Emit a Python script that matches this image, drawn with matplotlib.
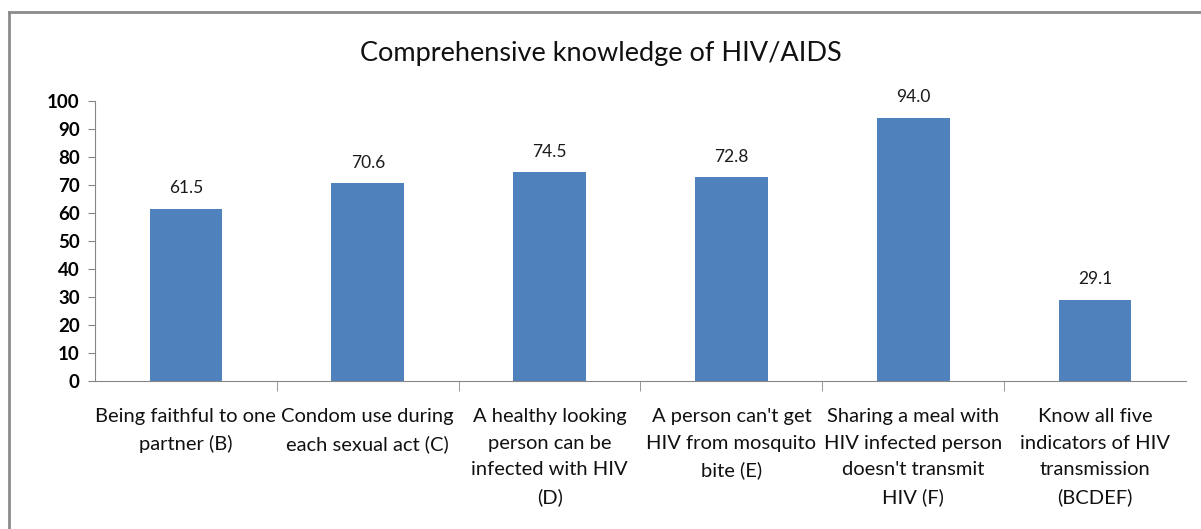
import matplotlib.pyplot as plt
import numpy as np

categories = [
    "Being faithful to one\npartner (B)",
    "Condom use during\neach sexual act (C)",
    "A healthy looking\nperson can be\ninfected with HIV\n(D)",
    "A person can't get\nHIV from mosquito\nbite (E)",
    "Sharing a meal with\nHIV infected person\ndoesn't transmit\nHIV (F)",
    "Know all five\nindicators of HIV\ntransmission\n(BCDEF)",
]
values = [61.5, 70.6, 74.5, 72.8, 94.0, 29.1]
yticks = list(range(0, 101, 10))

plt.rcParams['font.family'] = ['Lato', 'DejaVu Sans']

fig = plt.figure(figsize=(12.01, 5.29), dpi=100)
ax = fig.add_axes([95 / 1201, 1 - 381 / 529, (1186 - 95) / 1201, (381 - 101) / 529])

x = np.arange(len(values))
ax.bar(x, values, width=0.4, color='#4F81BD')
for xi, v in zip(x, values):
    ax.annotate(f"{v:.1f}", (xi, v), xytext=(0, 9), textcoords='offset points',
                ha='center', va='bottom', fontsize=12.5, color='#1a1a1a')

ax.set_xlim(-0.5, len(values) - 0.5)
ax.set_ylim(0, 100)
ax.set_yticks(yticks)
ax.set_yticklabels([str(t) for t in yticks], fontsize=13.5, fontweight='bold')
ax.tick_params(axis='y', length=5, color='#868686', pad=6)

ax.set_xticks(x)
ax.set_xticklabels(categories, fontsize=14.5, linespacing=1.68, va='top',
                   color='#111111')
ax.tick_params(axis='x', length=0, pad=19.5)
ax.set_xticks(np.arange(0.5, len(values) - 0.5, 1), minor=True)
ax.tick_params(axis='x', which='minor', length=7, color='#868686')

for side in ['top', 'right']:
    ax.spines[side].set_visible(False)
for side in ['left', 'bottom']:
    ax.spines[side].set_color('#868686')

fig.text(0.5, 1 - 53 / 529, "Comprehensive knowledge of HIV/AIDS",
         ha='center', va='center', fontsize=19.5, color='#111111')

# chart frame (only top and left edges are visible in the picture)
fig.add_artist(plt.Line2D([9 / 1201, 1], [1 - 12 / 529, 1 - 12 / 529], color='#8c8c8c', lw=2))
fig.add_artist(plt.Line2D([9 / 1201, 9 / 1201], [0, 1 - 12 / 529], color='#8c8c8c', lw=2))

fig.savefig("out.png", dpi=100)
